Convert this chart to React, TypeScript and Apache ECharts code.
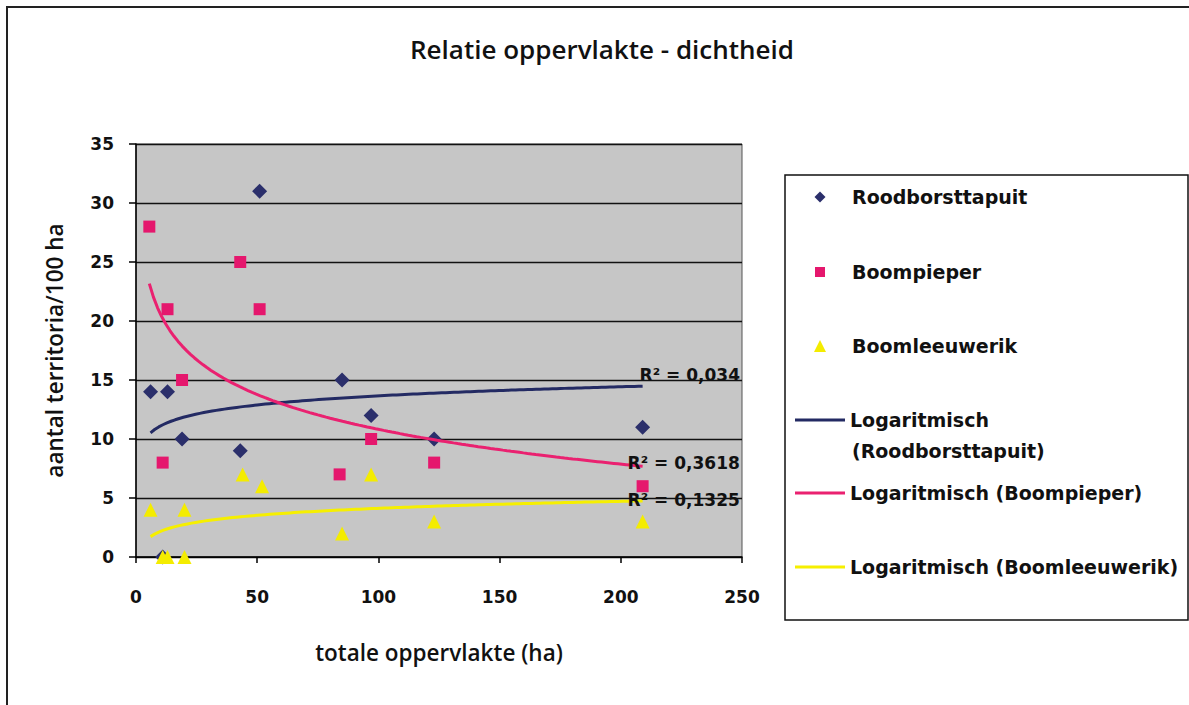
import React, { useEffect, useRef } from "react";
import * as echarts from "echarts";

const titleText = "Relatie oppervlakte - dichtheid";
const xAxisName = "totale oppervlakte (ha)";
const yAxisName = "aantal territoria/100 ha";
const seriesNames = ["Roodborsttapuit", "Boompieper", "Boomleeuwerik"];
const trendNames = [
  "Logaritmisch (Roodborsttapuit)",
  "Logaritmisch (Boompieper)",
  "Logaritmisch (Boomleeuwerik)",
];
const r2Labels = ["R² = 0,034", "R² = 0,3618", "R² = 0,1325"];

const roodArea = [6, 11, 13, 19, 43, 51, 85, 97, 123, 209];
const roodDensity = [14, 0, 14, 10, 9, 31, 15, 12, 10, 11];
const pieperArea = [5.5, 11, 13, 19, 43, 51, 84, 97, 123, 209];
const pieperDensity = [28, 8, 21, 15, 25, 21, 7, 10, 8, 6];
const leeuwArea = [6, 11, 13, 20, 20, 44, 52, 85, 97, 123, 209];
const leeuwDensity = [4, 0, 0, 4, 0, 7, 6, 2, 7, 3, 3];

const xMin = 0;
const xMax = 250;
const xStep = 50;
const yMin = 0;
const yMax = 35;
const yStep = 5;

const colors = {
  rood: "#2b2f6b",
  pieper: "#e5176d",
  leeuw: "#f4ec00",
  roodLine: "#232a63",
  pieperLine: "#ea2170",
  leeuwLine: "#f6ef00",
};

function zip(xs: number[], ys: number[]) {
  return xs.map((x, i) => [x, ys[i]]);
}

// Least-squares logarithmic trend (y = a ln x + b) over the data range
function logTrend(xs: number[], ys: number[], steps = 120) {
  const lx = xs.map((x) => Math.log(x));
  const n = xs.length;
  const mx = lx.reduce((s, v) => s + v, 0) / n;
  const my = ys.reduce((s, v) => s + v, 0) / n;
  let sxy = 0;
  let sxx = 0;
  for (let i = 0; i < n; i++) {
    sxy += (lx[i] - mx) * (ys[i] - my);
    sxx += (lx[i] - mx) * (lx[i] - mx);
  }
  const a = sxy / sxx;
  const b = my - a * mx;
  const lo = Math.min(...xs);
  const hi = Math.max(...xs);
  const pts: number[][] = [];
  for (let k = 0; k <= steps; k++) {
    const x = lo + ((hi - lo) * k) / steps;
    pts.push([x, a * Math.log(x) + b]);
  }
  return pts;
}

const FONT = "DejaVu Sans";
const FONT2 = "Open Sans";

export default function App() {
  const ref = useRef<HTMLDivElement>(null);

  useEffect(() => {
    document.body.style.margin = "0";
    if (!ref.current) return;
    const chart = echarts.init(ref.current, undefined, { renderer: "svg" });

    const legendText = {
      fontFamily: FONT,
      fontWeight: "bold" as const,
      fontSize: 19,
      color: "#111",
      lineHeight: 24,
    };
    const lineLegend = {
      orient: "vertical" as const,
      left: 795,
      padding: 0,
      itemWidth: 50,
      itemHeight: 3,
      itemGap: 0,
      icon: "rect",
      selectedMode: false,
      textStyle: legendText,
    };
    const markerLegend = (size: number, top: number, name: string, icon: string) => ({
      orient: "vertical" as const,
      left: 820 - size / 2,
      top,
      padding: 0,
      itemWidth: size,
      itemHeight: size,
      itemGap: 0,
      icon,
      selectedMode: false,
      data: [name],
      textStyle: { ...legendText, padding: [0, 0, 0, 27 - size / 2] },
    });

    const trendLabel = (text: string, dx: number, dy: number) => ({
      show: true,
      formatter: () => text,
      distance: 0,
      offset: [dx, dy],
      color: "#111",
      fontFamily: FONT,
      fontWeight: "bold",
      fontSize: 17,
    });

    const option: any = {
      animation: false,
      backgroundColor: "#ffffff",
      title: {
        text: titleText,
        left: 405,
        top: 31,
        textStyle: {
          fontFamily: FONT2,
          fontWeight: 600,
          fontSize: 26,
          color: "#111",
        },
      },
      graphic: [
        {
          type: "rect",
          shape: { x: 7, y: 7, width: 1200, height: 720 },
          style: { fill: "none", stroke: "#222", lineWidth: 2 },
          silent: true,
        },
        {
          type: "rect",
          shape: { x: 785, y: 175, width: 403, height: 445 },
          style: { fill: "#fff", stroke: "#111", lineWidth: 1.5 },
          silent: true,
        },
        {
          type: "text",
          left: 852,
          top: 451 - 12,
          style: {
            text: "(" + seriesNames[0] + ")",
            fill: "#111",
            font: "bold 19px 'DejaVu Sans'",
            lineHeight: 24,
          },
          silent: true,
          z: 10,
        },
      ],
      legend: [
        markerLegend(11, 185, seriesNames[0], "diamond"),
        markerLegend(10, 260, seriesNames[1], "rect"),
        markerLegend(12, 334, seriesNames[2], "triangle"),
        {
          ...lineLegend,
          top: 420 - 12,
          data: [trendNames[0]],
          formatter: (name: string) => name.split(" ")[0],
        },
        { ...lineLegend, top: 493 - 12, data: [trendNames[1]] },
        { ...lineLegend, top: 567 - 12, data: [trendNames[2]] },
      ],
      grid: {
        left: 136,
        top: 144,
        width: 606,
        height: 413,
        show: true,
        backgroundColor: "#c6c6c6",
        borderColor: "#555",
        borderWidth: 1,
      },
      xAxis: {
        type: "value",
        min: xMin,
        max: xMax,
        interval: xStep,
        name: xAxisName,
        nameLocation: "middle",
        nameGap: 84,
        nameTextStyle: { fontFamily: FONT2, fontWeight: 600, fontSize: 22.5, color: "#111" },
        axisLine: { show: true, onZero: false, lineStyle: { color: "#000", width: 1.5 } },
        axisTick: { show: true, length: 6, lineStyle: { color: "#000", width: 1.5 } },
        axisLabel: {
          margin: 31,
          fontFamily: FONT,
          fontWeight: "bold",
          fontSize: 17,
          color: "#111",
        },
        splitLine: { show: false },
      },
      yAxis: {
        type: "value",
        min: yMin,
        max: yMax,
        interval: yStep,
        name: yAxisName,
        nameLocation: "middle",
        nameGap: 70,
        nameTextStyle: { fontFamily: FONT2, fontWeight: 600, fontSize: 22.5, color: "#111" },
        axisLine: { show: true, onZero: false, lineStyle: { color: "#000", width: 1.5 } },
        axisTick: { show: true, length: 7, lineStyle: { color: "#000", width: 1.5 } },
        axisLabel: {
          margin: 22,
          fontFamily: FONT,
          fontWeight: "bold",
          fontSize: 17,
          color: "#111",
        },
        splitLine: { show: true, lineStyle: { color: "#111", width: 1.3 } },
      },
      series: [
        {
          type: "scatter",
          name: seriesNames[0],
          data: zip(roodArea, roodDensity),
          symbol: "diamond",
          symbolSize: 15,
          itemStyle: { color: colors.rood, opacity: 1 },
          z: 3,
        },
        {
          type: "scatter",
          name: seriesNames[1],
          data: zip(pieperArea, pieperDensity),
          symbol: "rect",
          symbolSize: 12,
          itemStyle: { color: colors.pieper, opacity: 1 },
          z: 3,
        },
        {
          type: "scatter",
          name: seriesNames[2],
          data: zip(leeuwArea, leeuwDensity),
          symbol: "triangle",
          symbolSize: 14,
          itemStyle: { color: colors.leeuw, opacity: 1 },
          z: 3,
        },
        {
          type: "line",
          name: trendNames[0],
          data: logTrend(roodArea, roodDensity),
          symbol: "none",
          lineStyle: { color: colors.roodLine, width: 3 },
          itemStyle: { color: colors.roodLine },
          endLabel: trendLabel(r2Labels[0], -3, -11),
          silent: true,
          z: 4,
        },
        {
          type: "line",
          name: trendNames[1],
          data: logTrend(pieperArea, pieperDensity),
          symbol: "none",
          lineStyle: { color: colors.pieperLine, width: 3 },
          itemStyle: { color: colors.pieperLine },
          endLabel: trendLabel(r2Labels[1], -15, -3),
          silent: true,
          z: 4,
        },
        {
          type: "line",
          name: trendNames[2],
          data: logTrend(leeuwArea, leeuwDensity),
          symbol: "none",
          lineStyle: { color: colors.leeuwLine, width: 3 },
          itemStyle: { color: colors.leeuwLine },
          endLabel: trendLabel(r2Labels[2], -15, -1),
          silent: true,
          z: 4,
        },
      ],
    };

    chart.setOption(option);
    return () => chart.dispose();
  }, []);

  return <div ref={ref} style={{ width: 1189, height: 705 }} />;
}
